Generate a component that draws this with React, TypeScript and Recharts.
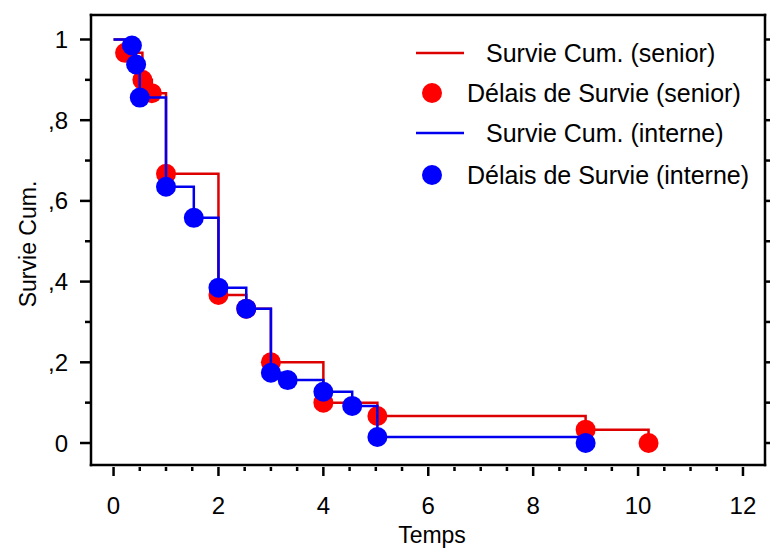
import React from "react";
import {
  ComposedChart,
  Line,
  Scatter,
  XAxis,
  YAxis,
  Legend,
} from "recharts";

// Kaplan-Meier estimates: time (years) and cumulative survival
const seniorTimes = [0, 0.22, 0.55, 0.73, 1.0, 2.0, 2.53, 3.0, 4.0, 5.03, 9.0, 10.2];
const seniorSurv = [1, 0.967, 0.9, 0.867, 0.667, 0.367, 0.333, 0.2, 0.1, 0.067, 0.033, 0];

const interneTimes = [0, 0.35, 0.43, 0.5, 1.0, 1.53, 2.0, 2.53, 3.0, 3.32, 4.0, 4.55, 5.03, 9.0];
const interneSurv = [1, 0.985, 0.938, 0.856, 0.635, 0.558, 0.385, 0.333, 0.174, 0.156, 0.127, 0.092, 0.015, 0];

const xTicks = [0, 0.5, 1, 1.5, 2, 2.5, 3, 3.5, 4, 4.5, 5, 5.5, 6, 6.5, 7, 7.5, 8, 8.5, 9, 9.5, 10, 10.5, 11, 11.5, 12];
const xLabelled = [0, 2, 4, 6, 8, 10, 12];
const yTicks = [0, 0.1, 0.2, 0.3, 0.4, 0.5, 0.6, 0.7, 0.8, 0.9, 1];
const yLabels: Record<string, string> = { "0": "0", "0.2": ",2", "0.4": ",4", "0.6": ",6", "0.8": ",8", "1": "1" };

const legendItems = [
  { label: "Survie Cum. (senior)", kind: "line", color: "#dd0000" },
  { label: "Délais de Survie (senior)", kind: "dot", color: "#ff0000" },
  { label: "Survie Cum. (interne)", kind: "line", color: "#0000ee" },
  { label: "Délais de Survie (interne)", kind: "dot", color: "#0000ff" },
];

const toPoints = (times: number[], surv: number[]) =>
  times.map((t, i) => ({ t, s: surv[i] }));

const seniorCurve = toPoints(seniorTimes, seniorSurv);
const interneCurve = toPoints(interneTimes, interneSurv);
const seniorDots = seniorCurve.slice(1);
const interneDots = interneCurve.slice(1);

const FONT = "'Liberation Sans', Arial, sans-serif";
const INK = "#000";

const BottomTick = (props: any) => {
  const { x, y, payload } = props;
  const major = xLabelled.includes(payload.value);
  return (
    <g>
      <line x1={x} x2={x} y1={y + 2} y2={y + (major ? 11 : 6)} stroke={INK} strokeWidth={2.5} />
      {major && (
        <text x={x} y={y + 49} textAnchor="middle" fontSize={24} fontFamily={FONT} fill={INK}>
          {payload.value}
        </text>
      )}
    </g>
  );
};

const TopTick = (props: any) => {
  const { x, y, payload } = props;
  const major = xLabelled.includes(payload.value);
  return <line x1={x} x2={x} y1={y} y2={y - (major ? 10 : 5)} stroke={INK} strokeWidth={2.5} />;
};

const LeftTick = (props: any) => {
  const { x, y, payload } = props;
  const label = yLabels[String(payload.value)];
  return (
    <g>
      <line x1={x} x2={x - (label ? 11 : 6)} y1={y} y2={y} stroke={INK} strokeWidth={2.5} />
      {label && (
        <text x={x - 23} y={y + 8.5} textAnchor="end" fontSize={24} fontFamily={FONT} fill={INK}>
          {label}
        </text>
      )}
    </g>
  );
};

const RightTick = (props: any) => {
  const { x, y } = props;
  return <line x1={x} x2={x + 8} y1={y} y2={y} stroke={INK} strokeWidth={2.5} />;
};

const XTitle = () => (
  <text x={432} y={543} textAnchor="middle" fontSize={23} fontFamily={FONT} fill={INK}>
    Temps
  </text>
);

const YTitle = () => (
  <text
    x={28}
    y={244}
    transform="rotate(-90 28 244)"
    textAnchor="middle"
    dy={8}
    fontSize={23}
    fontFamily={FONT}
    fill={INK}
  >
    Survie Cum.
  </text>
);

const LegendBox = () => {
  const rows = [53, 93, 133, 175];
  return (
    <svg width={770} height={200} style={{ display: "block", overflow: "visible" }}>
      {legendItems.map((item, i) => {
        const cy = rows[i];
        return (
          <g key={item.label}>
            {item.kind === "line" ? (
              <line x1={416} x2={464} y1={cy} y2={cy} stroke={item.color} strokeWidth={2.5} />
            ) : (
              <circle cx={432} cy={cy} r={10} fill={item.color} />
            )}
            <text
              x={item.kind === "line" ? 486 : 467}
              y={cy + 9}
              fontSize={25}
              fontFamily={FONT}
              fill={INK}
            >
              {item.label}
            </text>
          </g>
        );
      })}
    </svg>
  );
};

const Dot = (color: string) => (props: any) => (
  <circle cx={props.cx} cy={props.cy} r={10} fill={color} />
);

const axisLine = { stroke: INK, strokeWidth: 2.5, strokeLinecap: "square" as const };
const xDomain: [number, number] = [-0.43, 12.42];
const yDomain: [number, number] = [-0.0545, 1.0607];

export default function App() {
  return (
    <div style={{ position: "absolute", left: 0, top: 0, fontFamily: FONT, background: "#fff" }}>
      <ComposedChart width={770} height={550} margin={{ top: 0, right: 0, bottom: 0, left: 0 }}>
        <XAxis
          dataKey="t"
          type="number"
          domain={xDomain}
          allowDataOverflow
          ticks={xTicks}
          interval={0}
          height={85}
          tickSize={0}
          tickMargin={0}
          tickLine={false}
          axisLine={axisLine}
          tick={<BottomTick />}
          label={<XTitle />}
        />
        <XAxis
          xAxisId="top"
          orientation="top"
          type="number"
          domain={xDomain}
          allowDataOverflow
          ticks={xTicks}
          interval={0}
          height={15}
          tickSize={0}
          tickMargin={0}
          tickLine={false}
          axisLine={axisLine}
          tick={<TopTick />}
        />
        <YAxis
          dataKey="s"
          type="number"
          domain={yDomain}
          allowDataOverflow
          ticks={yTicks}
          interval={0}
          width={91}
          tickSize={0}
          tickMargin={0}
          tickLine={false}
          axisLine={axisLine}
          tick={<LeftTick />}
          label={<YTitle />}
        />
        <YAxis
          yAxisId="right"
          orientation="right"
          type="number"
          domain={yDomain}
          allowDataOverflow
          ticks={yTicks}
          interval={0}
          width={5}
          tickSize={0}
          tickMargin={0}
          tickLine={false}
          axisLine={axisLine}
          tick={<RightTick />}
        />
        <Legend
          layout="vertical"
          align="center"
          verticalAlign="middle"
          wrapperStyle={{ left: 0, top: 0, width: 770, height: 200 }}
          content={<LegendBox />}
        />
        <Line
          data={seniorCurve}
          dataKey="s"
          type="stepAfter"
          stroke="#dd0000"
          strokeWidth={2.5}
          dot={false}
          activeDot={false}
          isAnimationActive={false}
          zIndex={400}
        />
        <Scatter
          data={seniorDots}
          dataKey="s"
          shape={Dot("#ff0000")}
          isAnimationActive={false}
          zIndex={410}
        />
        <Line
          data={interneCurve}
          dataKey="s"
          type="stepAfter"
          stroke="#0000ee"
          strokeWidth={2.5}
          dot={false}
          activeDot={false}
          isAnimationActive={false}
          zIndex={420}
        />
        <Scatter
          data={interneDots}
          dataKey="s"
          shape={Dot("#0000ff")}
          isAnimationActive={false}
          zIndex={430}
        />
      </ComposedChart>
    </div>
  );
}
